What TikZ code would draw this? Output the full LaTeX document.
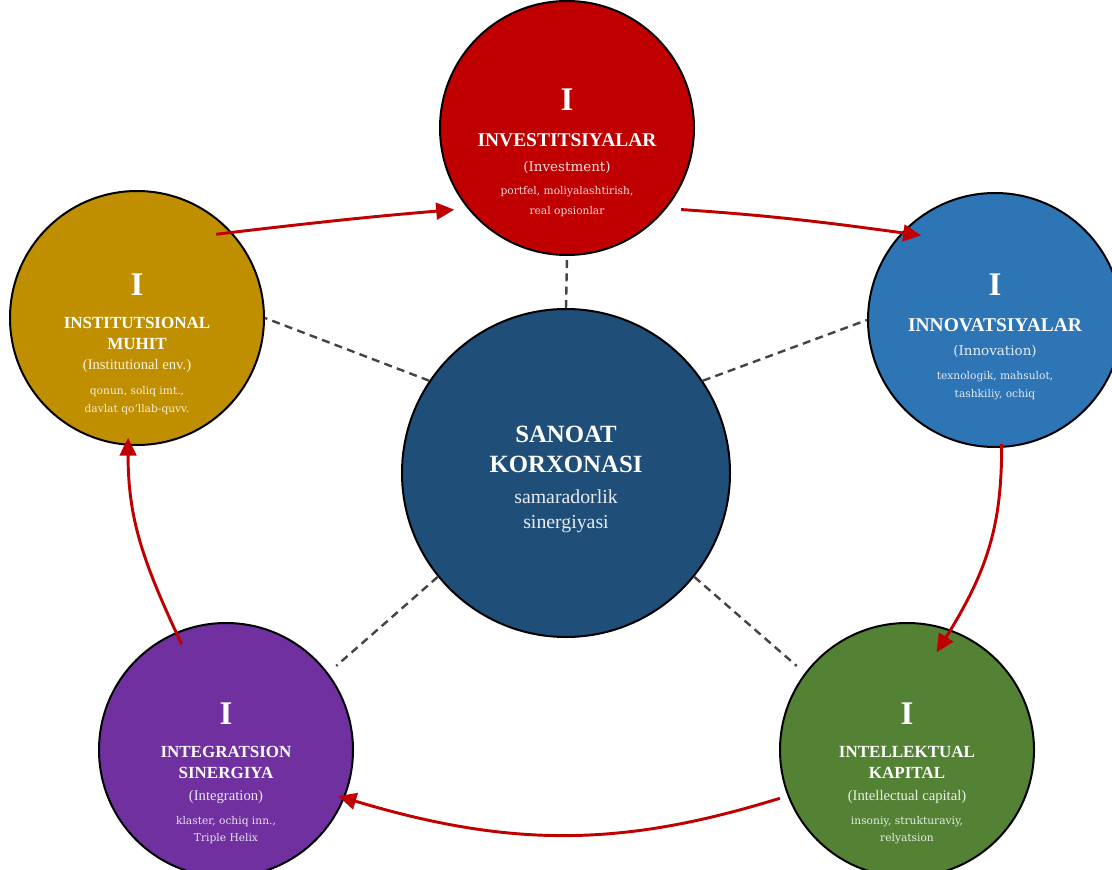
\documentclass[tikz,border=0pt]{standalone}
\usepackage{fontspec}
\setmainfont{Liberation Serif}
\newfontfamily\dejavu{DejaVu Serif}
\usepackage{xcolor}
\usetikzlibrary{arrows.meta}

\definecolor{investred}{HTML}{C00000}
\definecolor{innovblue}{HTML}{2E75B6}
\definecolor{intelgreen}{HTML}{548235}
\definecolor{integrpurple}{HTML}{7030A0}
\definecolor{institgold}{HTML}{BF8F00}
\definecolor{coreblue}{HTML}{1F4E79}
\definecolor{flowred}{HTML}{C00000}
\definecolor{tiegray}{HTML}{444444}

\begin{document}
\begin{tikzpicture}[x=0.75pt,y=0.75pt,
  hub/.style={circle, draw=black, line width=1.5pt, minimum size=190.5pt, inner sep=0pt},
  core/.style={hub, minimum size=246pt},
  numeral/.style={text=white, inner sep=0pt, font=\bfseries\fontsize{24.75}{28}\selectfont},
  title/.style={text=white, inner sep=0pt, align=center, font=\bfseries\fontsize{14.6}{17}\selectfont},
  title2/.style={text=white, inner sep=0pt, align=center, font=\bfseries\fontsize{12.75}{15.75}\selectfont},
  sub/.style={text=white, text opacity=0.88, inner sep=0pt, font=\dejavu\fontsize{10.1}{12}\selectfont},
  sub2/.style={text=white, text opacity=0.88, inner sep=0pt, font=\fontsize{11}{13}\selectfont},
  detail/.style={text=white, text opacity=0.85, inner sep=0pt, align=center, font=\dejavu\fontsize{8}{13.5}\selectfont},
  flow/.style={draw=flowred, line width=2.2pt, -{Triangle[length=13.5pt,width=12.5pt]}},
  tie/.style={draw=tiegray, line width=1.8pt, dash pattern=on 6pt off 4pt}]
\useasboundingbox (0,0) rectangle (1112,869);
\clip (0,0) rectangle (1112,869);
\fill[white] (0,0) rectangle (1112,869);

% circles
\node[hub, fill=investred] (invest) at (567,741) {};
\node[hub, fill=innovblue] (innov) at (995,549) {};
\node[hub, fill=intelgreen] (intel) at (907,119) {};
\node[hub, fill=integrpurple] (integr) at (226,119) {};
\node[hub, fill=institgold] (instit) at (137,551) {};
\node[core, fill=coreblue] (core) at (566,396) {};

% texts
\node[numeral] (investI) at (567,769) {I};
\node[title] (investT) at (567,729) {INVESTITSIYALAR};
\node[sub] (investS) at (567,702) {(Investment)};
\node[detail, font=\dejavu\fontsize{8}{15}\selectfont] (investD) at (567,667) {portfel, moliyalashtirish,\\real opsionlar};

\node[numeral] (innovI) at (995,584) {I};
\node[title] (innovT) at (995,544) {INNOVATSIYALAR};
\node[sub] (innovS) at (995,518) {(Innovation)};
\node[detail] (innovD) at (995,483) {texnologik, mahsulot,\\tashkiliy, ochiq};

\node[numeral] (intelI) at (907,155) {I};
\node[title2] (intelT) at (907,106.5) {INTELLEKTUAL\\KAPITAL};
\node[sub2] (intelS) at (907,72) {(Intellectual capital)};
\node[detail, font=\dejavu\fontsize{8}{12.75}\selectfont] (intelD) at (907,39) {insoniy, strukturaviy,\\relyatsion};

\node[numeral] (integrI) at (226,155) {I};
\node[title2] (integrT) at (226,106.5) {INTEGRATSION\\SINERGIYA};
\node[sub2] (integrS) at (226,72) {(Integration)};
\node[detail, font=\dejavu\fontsize{8}{12.75}\selectfont] (integrD) at (226,39) {klaster, ochiq inn.,\\Triple Helix};

\node[numeral] (institI) at (137,584) {I};
\node[title2] (institT) at (137,535.5) {INSTITUTSIONAL\\MUHIT};
\node[sub2] (institS) at (137,503) {(Institutional env.)};
\node[detail] (institD) at (137,468.5) {qonun, soliq imt.,\\davlat qo‘llab-quvv.};

\node[text=white, inner sep=0pt, align=center, font=\bfseries\fontsize{18.6}{22.5}\selectfont] (coreT) at (566,420) {SANOAT\\KORXONASI};
\node[text=white, text opacity=0.9, inner sep=0pt, align=center, font=\fontsize{14.85}{18.75}\selectfont] (coreS) at (566,357.5) {samaradorlik\\sinergiyasi};

% dashed ties
\draw[tie] (core.90) -- (invest.270);
\draw[tie] (core.34) -- (innov.180);
\draw[tie, shorten >=8pt] (core.321) -- (intel.143);
\draw[tie, shorten >=8pt] (core.219) -- (integr.37);
\draw[tie] (core.146) -- (instit.0);

% cycle
\draw[flow, shorten <=-12pt, shorten >=10pt] (instit.42) to[bend left=1] (invest.219);
\draw[flow, shorten <=11pt, shorten >=-15pt] (invest.321) to[bend left=2] (innov.137);
\draw[flow, shorten <=-3pt, shorten >=-20pt] (innov.273) to[out=-90,in=58] (intel.70);
\draw[flow, shorten <=6pt, shorten >=-5pt] (intel.201) to[bend left=17] (integr.338);
\draw[flow, shorten <=-10pt, shorten >=-6pt] (integr.113) to[out=115,in=-90] (instit.266);
\end{tikzpicture}
\end{document}
